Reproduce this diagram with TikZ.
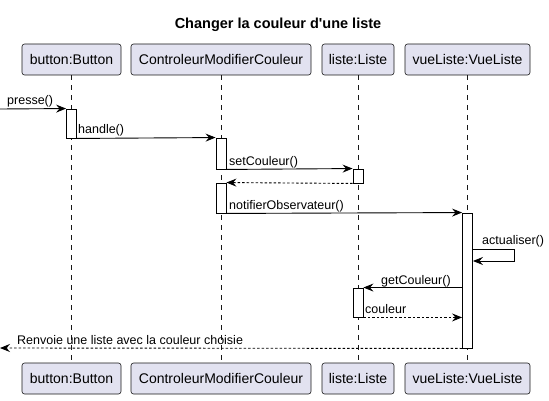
\documentclass[tikz,border=0pt]{standalone}
\usepackage{fontspec}
\setmainfont{Liberation Sans}
\usetikzlibrary{arrows.meta}
\definecolor{partfill}{HTML}{E2E2F0}
\definecolor{partline}{HTML}{181818}
\tikzset{
	part/.style={draw=partline, line width=0.6pt, fill=partfill, rounded corners=2.5pt, minimum height=31pt, inner xsep=0pt, font=\fontsize{14}{16}\selectfont},
	life/.style={draw=partline, line width=0.5pt, dash pattern=on 5pt off 5pt},
	act/.style={draw=black, fill=white, line width=0.9pt, minimum width=10pt, inner sep=0pt},
	msg/.style={line width=0.9pt, -{Stealth[length=10pt,width=8pt,inset=3.5pt]}},
	ret/.style={msg, dash pattern=on 2.5pt off 2pt},
	lbl/.style={font=\fontsize{12.5}{14}\selectfont, anchor=base west, inner sep=0pt}
}
\begin{document}
\begin{tikzpicture}[x=1pt,y=-1pt]
	\useasboundingbox (0,0) rectangle (549,401);
	\node[font=\bfseries\fontsize{14.5}{16}\selectfont] (titre) at (278,25) {Changer la couleur d\textquotesingle une liste};
	% participants et lignes de vie
	\foreach \n/\x/\w/\t in {button/71.5/99/button:Button, ctrl/221/180/ControleurModifierCouleur, liste/358/72/liste:Liste, vue/467.5/125/vueListe:VueListe} {
		\node[part, minimum width=\w pt] (\n-haut) at (\x,59.5) {\t};
		\node[part, minimum width=\w pt] (\n-bas) at (\x,378.5) {\t};
		\draw[life] (\n-haut) -- (\n-bas);}
	% activations
	\node[act, minimum height=29pt] (actB) at (71.5,123.5) {};
	\node[act, minimum height=31pt] (actC1) at (221,153.5) {};
	\node[act, minimum height=14pt] (actL1) at (358,176) {};
	\node[act, minimum height=30pt] (actC2) at (221,198) {};
	\node[act, minimum height=135pt] (actV) at (467.5,280.5) {};
	\node[act, minimum height=29pt] (actL2) at (358,302.5) {};
	% messages
	\coordinate (depart) at (0,109);
	\coordinate (retour) at (0,348);
	\coordinate (auto1) at (514,249);
	\coordinate (auto2) at (514,261);
	\draw[msg] (depart) -- (actB.north west);
	\draw[msg] (actB.south east) -- (actC1.north west);
	\draw[msg] (actC1.south east) -- (actL1.north west);
	\draw[ret] (actL1.south west) -- (actC2.north east);
	\draw[msg] (actC2.south east) -- (actV.north west);
	\draw[msg] (actV.east |- auto1) -- (auto1) -- (auto2) -- (actV.east |- auto2);
	\draw[msg] (actV.west |- actL2.north) -- (actL2.north east);
	\draw[ret] (actL2.south east) -- (actV.west |- actL2.south);
	\draw[ret] (actV.south west) -- (retour);
	\node[lbl] (lpresse) at (7,105) {presse()};
	\node[lbl] (lhandle) at (78,134) {handle()};
	\node[lbl] (lset) at (229,165) {setCouleur()};
	\node[lbl] (lnotif) at (229,209) {notifierObservateur()};
	\node[lbl] (lactu) at (482,244) {actualiser()};
	\node[lbl] (lget) at (381,284) {getCouleur()};
	\node[lbl] (lcouleur) at (365,313) {couleur};
	\node[lbl] (lrenvoie) at (17,344) {Renvoie une liste avec la couleur choisie};
\end{tikzpicture}
\end{document}
